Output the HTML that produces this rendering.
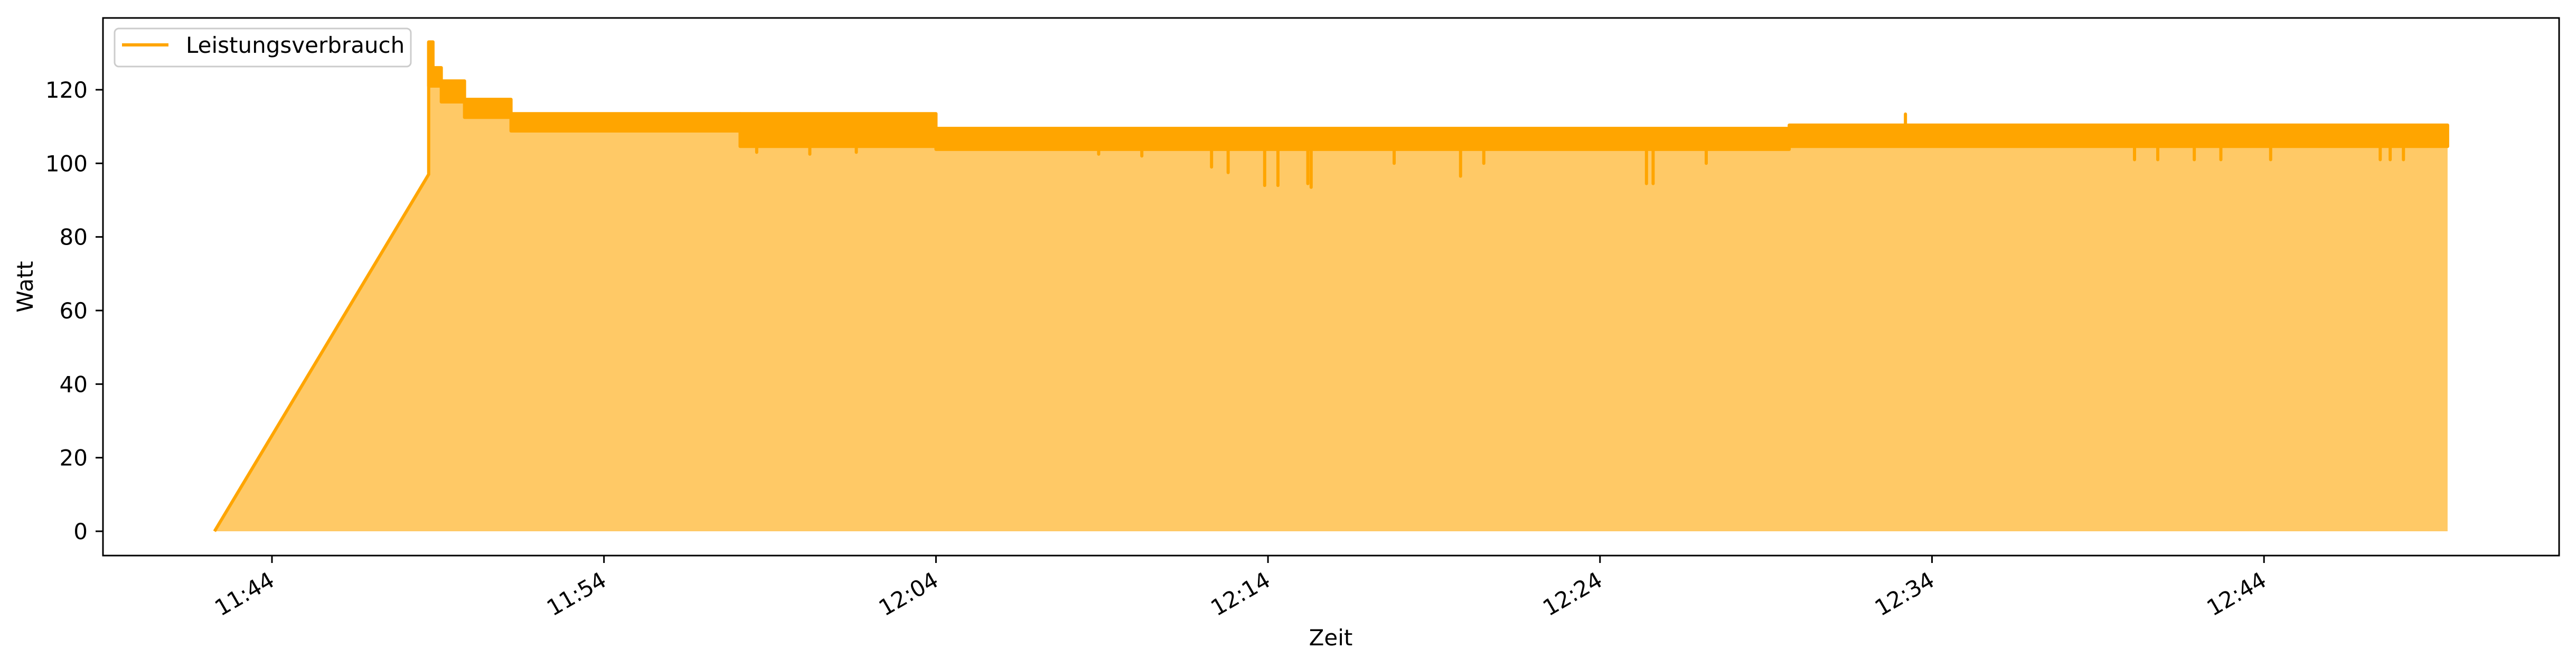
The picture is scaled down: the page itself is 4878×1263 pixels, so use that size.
<!DOCTYPE html>
<html><head><meta charset="utf-8"><style>
html,body{margin:0;padding:0;background:#fff;}
svg{display:block;font-family:"DejaVu Sans","Liberation Sans",sans-serif;}
</style></head><body>
<svg id="chart" width="4878" height="1263" viewBox="0 0 4878 1263" xmlns="http://www.w3.org/2000/svg">
<rect x="0" y="0" width="4878" height="1263" fill="#fff"/>
<g id="plot"></g>
<g id="axes"></g>
<rect x="195" y="34" width="4651" height="1018" fill="none" stroke="#000" stroke-width="3"/>
<g>
<rect x="217" y="54" width="561" height="72" rx="8" fill="#fff" fill-opacity="0.8" stroke="#ccc" stroke-width="3"/>
<line x1="231" y1="85" x2="319" y2="85" stroke="#FFA500" stroke-width="6"/>
<text x="352" y="100" font-size="42" fill="#000">Leistungsverbrauch</text>
</g>
<text x="2520" y="1222" font-size="42" text-anchor="middle" fill="#000">Zeit</text>
<text transform="translate(62,543) rotate(-90)" font-size="42" text-anchor="middle" fill="#000">Watt</text>
</svg>
<script>
// minutes relative to 11:44
const rampT = [-1.73, 4.72];
const rampV = [0, 97];
const segStart = [4.72, 4.85, 5.1, 5.8, 7.2, 14.1, 20, 45.7];
const segEnd   = [4.85, 5.1, 5.8, 7.2, 14.1, 20, 45.7, 65.53];
const segHi    = [133, 126, 122.4, 117.4, 113.5, 113.5, 109.5, 110.4];
const segLo    = [121, 121, 116.7, 112.5, 108.8, 104.6, 103.8, 104.6];
const spikeT = [14.6, 16.2, 17.6, 24.9, 26.2, 28.3, 28.8, 29.9, 30.3, 31.2, 31.3, 33.8, 35.8, 36.5, 41.4, 41.6, 43.2, 49.2, 56.1, 56.8, 57.9, 58.7, 60.2, 63.5, 63.8, 64.2];
const spikeV = [103, 102.5, 103, 102.5, 102, 99, 97.5, 94, 94, 94.5, 93.5, 100, 96.5, 100, 94.5, 94.5, 100, 113.4, 101, 101, 101, 101, 101, 101, 101, 101];
const yTicks = [0, 20, 40, 60, 80, 100, 120];
const xTicks = [0, 10, 20, 30, 40, 50, 60];
const xTickLabels = ["11:44", "11:54", "12:04", "12:14", "12:24", "12:34", "12:44"];

const NS = "http://www.w3.org/2000/svg";
const X = m => 515 + m * 62.87;
const Y = v => 1006 - v * 6.967;
const plot = document.getElementById('plot');
const axes = document.getElementById('axes');
function mk(tag, attrs, parent) {
  const e = document.createElementNS(NS, tag);
  for (const k in attrs) e.setAttribute(k, attrs[k]);
  parent.appendChild(e);
  return e;
}
// fill area
let d = `M${X(rampT[0])},${Y(0)} L${X(rampT[0])},${Y(rampV[0])} L${X(rampT[1])},${Y(rampV[1])}`;
for (let i = 0; i < segStart.length; i++) {
  d += ` L${X(segStart[i])},${Y(segHi[i])} L${X(segEnd[i])},${Y(segHi[i])}`;
}
d += ` L${X(segEnd[segEnd.length-1])},${Y(0)} Z`;
const area = mk('path', {d: d, fill: '#FFA500', 'fill-opacity': '0.6', stroke: 'none'}, plot);


// ramp line
const ramp = mk('path', {d: `M${X(rampT[0])},${Y(rampV[0])} L${X(rampT[1])},${Y(rampV[1])} L${X(segStart[0])},${Y(segHi[0])}`, fill: 'none', stroke: '#FFA500', 'stroke-width': 6}, plot);


// noisy band
for (let i = 0; i < segStart.length; i++) {
  const r = mk('rect', {x: X(segStart[i]) - 3, y: Y(segHi[i]) - 3, width: X(segEnd[i]) - X(segStart[i]) + 6, height: Y(segLo[i]) - Y(segHi[i]) + 6, fill: '#FFA500', rx: 3}, plot);
  
  
}
// spikes
for (let i = 0; i < spikeT.length; i++) {
  let base = 110;
  for (let j = 0; j < segStart.length; j++) if (spikeT[i] >= segStart[j] && spikeT[i] <= segEnd[j]) base = spikeV[i] > segHi[j] ? segHi[j] : segLo[j];
  const l = mk('line', {x1: X(spikeT[i]), x2: X(spikeT[i]), y1: Y(base), y2: Y(spikeV[i]), stroke: '#FFA500', 'stroke-width': 6, 'stroke-linecap': 'round'}, plot);
  
  
}
// y ticks
yTicks.forEach(v => {
  const t = mk('line', {x1: 181, x2: 195, y1: Y(v), y2: Y(v), stroke: '#000', 'stroke-width': 3}, axes);
  
  
  const tx = mk('text', {x: 166, y: Y(v) + 15, 'font-size': 42, 'text-anchor': 'end', fill: '#000'}, axes);
  
  
  tx.textContent = v;
});
// x ticks
xTicks.forEach((m, i) => {
  const t = mk('line', {x1: X(m), x2: X(m), y1: 1052, y2: 1066, stroke: '#000', 'stroke-width': 3}, axes);
  
  
  const tx = mk('text', {transform: `translate(${X(m) - 8},${1080}) rotate(-30)`, 'font-size': 42, 'text-anchor': 'end', 'dominant-baseline': 'hanging', fill: '#000'}, axes);
  
  
  tx.textContent = xTickLabels[i];
});
</script>
</body></html>
